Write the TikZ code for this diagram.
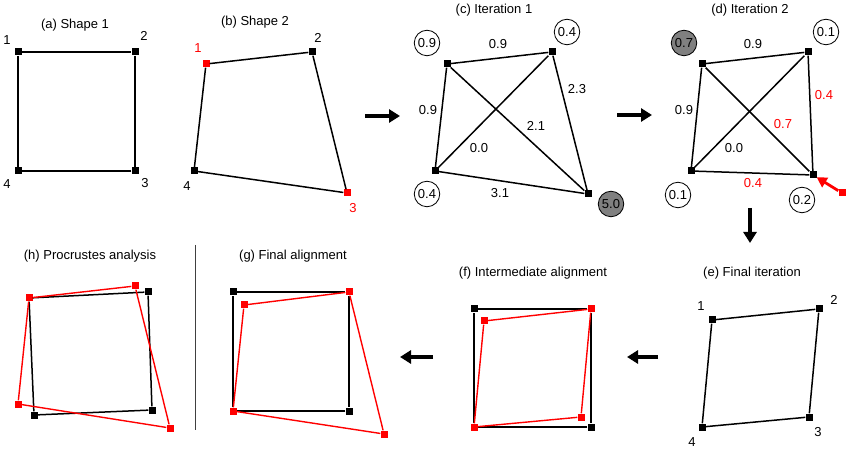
\documentclass[tikz,border=0pt]{standalone}
\usepackage{fontspec}
\setmainfont{Liberation Sans}
\usetikzlibrary{arrows.meta}
\begin{document}
\begin{tikzpicture}[x=1pt,y=-1pt,
  every node/.style={font=\fontsize{13}{15}\selectfont},
  vb/.style={rectangle, fill=black, minimum size=7pt, inner sep=0pt},
  vr/.style={rectangle, fill=red, minimum size=7pt, inner sep=0pt},
  lbl/.style={inner sep=0pt},
  rlbl/.style={inner sep=0pt, text=red},
  circ/.style={circle, draw, line width=0.8pt, minimum size=25.5pt, inner sep=0pt},
  gcirc/.style={circ, fill=black!50},
  ln/.style={line width=1.5pt},
  rln/.style={line width=1.4pt, red},
  bigarrow/.style={line width=4pt, -{Triangle[length=11pt,width=13pt]}},
]
\useasboundingbox (0,0) rectangle (847,449);

% ---------- (a) Shape 1
\node[lbl] (ta) at (75,25) {(a) Shape 1};
\node[vb] (a1) at (18,52) {};
\node[vb] (a2) at (135,52) {};
\node[vb] (a3) at (135,171) {};
\node[vb] (a4) at (18,171) {};
\draw[ln] (a1) -- (a2) -- (a3) -- (a4) -- (a1);
\node[lbl] (la1) at (7,40) {1};
\node[lbl] (la2) at (144,36) {2};
\node[lbl] (la3) at (145,183) {3};
\node[lbl] (la4) at (7,184) {4};

% ---------- (b) Shape 2
\node[lbl] (tb) at (255,22) {(b) Shape 2};
\node[vr] (b1) at (206,64) {};
\node[vb] (b2) at (312,52) {};
\node[vr] (b3) at (347,193) {};
\node[vb] (b4) at (194,171) {};
\draw[ln] (b1) -- (b2) -- (b3) -- (b4) -- (b1);
\node[rlbl] (lb1) at (198,48) {1};
\node[lbl] (lb2) at (318,38) {2};
\node[rlbl] (lb3) at (353,208) {3};
\node[lbl] (lb4) at (187,186) {4};

\coordinate (abS) at (365,116);
\coordinate (abE) at (400,116);
\draw[bigarrow] (abS) -- (abE);

% ---------- (c) Iteration 1
\node[lbl] (tc) at (494,10) {(c) Iteration 1};
\node[vb] (c1) at (447,64) {};
\node[vb] (c2) at (552,52) {};
\node[vb] (c3) at (588,194) {};
\node[vb] (c4) at (435,171) {};
\draw[ln] (c1) -- (c2) -- (c3) -- (c4) -- (c1);
\draw[ln] (c1) -- (c3);
\draw[ln] (c2) -- (c4);
\node[lbl] (ce12) at (498,44) {0.9};
\node[lbl] (ce14) at (428,110) {0.9};
\node[lbl] (ce23) at (577,89) {2.3};
\node[lbl] (ce13) at (536,126) {2.1};
\node[lbl] (ce24) at (479,148) {0.0};
\node[lbl] (ce34) at (500,193) {3.1};
\node[circ] (cc1) at (427,43) {0.9};
\node[circ] (cc2) at (567,32) {0.4};
\node[circ] (cc4) at (427,194) {0.4};
\node[gcirc] (cc3) at (611,204) {5.0};

\coordinate (cdS) at (617,115);
\coordinate (cdE) at (652,115);
\draw[bigarrow] (cdS) -- (cdE);

% ---------- (d) Iteration 2
\node[lbl] (td) at (750,10) {(d) Iteration 2};
\node[vb] (d1) at (702,64) {};
\node[vb] (d2) at (808,52) {};
\node[vb] (d3) at (813,175) {};
\node[vb] (d4) at (691,171) {};
\draw[ln] (d1) -- (d2) -- (d3) -- (d4) -- (d1);
\draw[ln] (d1) -- (d3);
\draw[ln] (d2) -- (d4);
\node[lbl] (de12) at (753,44) {0.9};
\node[lbl] (de14) at (684,110) {0.9};
\node[rlbl] (de23) at (824,95) {0.4};
\node[rlbl] (de13) at (783,124) {0.7};
\node[lbl] (de24) at (734,148) {0.0};
\node[rlbl] (de34) at (753,183) {0.4};
\node[gcirc] (dc1) at (684,43) {0.7};
\node[circ] (dc2) at (826,32) {0.1};
\node[circ] (dc4) at (678,195) {0.1};
\node[circ] (dc3) at (802,200) {0.2};
\node[vr] (dtail) at (842,193) {};
\draw[line width=2.8pt, red, -{Triangle[length=10pt,width=11pt]}] (dtail) -- (d3);

\coordinate (deS) at (750,208);
\coordinate (deE) at (750,243);
\draw[bigarrow] (deS) -- (deE);

% ---------- (e) Final iteration
\node[lbl] (te) at (752,273) {(e) Final iteration};
\node[vb] (e1) at (712,320) {};
\node[vb] (e2) at (819,309) {};
\node[vb] (e3) at (809,417) {};
\node[vb] (e4) at (702,427) {};
\draw[ln] (e1) -- (e2) -- (e3) -- (e4) -- (e1);
\node[lbl] (le1) at (701,306) {1};
\node[lbl] (le2) at (834,300) {2};
\node[lbl] (le3) at (818,432) {3};
\node[lbl] (le4) at (692,442) {4};

\coordinate (efS) at (658,357);
\coordinate (efE) at (627,357);
\draw[bigarrow] (efS) -- (efE);

% ---------- (f) Intermediate alignment
\node[lbl] (tf) at (533,273) {(f) Intermediate alignment};
\node[vb] (fb1) at (474,309) {};
\node[vb] (fb3) at (591,427) {};
\node[vr] (fr2) at (591,309) {};
\node[vr] (fr4) at (474,427) {};
\node[vr] (fr1) at (484,321) {};
\node[vr] (fr3) at (581,417) {};
\draw[ln] (fb1) -- (fr2) -- (fb3) -- (fr4) -- (fb1);
\draw[rln] (fr1) -- (fr2) -- (fr3) -- (fr4) -- (fr1);

\coordinate (fgS) at (433,357);
\coordinate (fgE) at (400,357);
\draw[bigarrow] (fgS) -- (fgE);

% ---------- (g) Final alignment
\node[lbl] (tg) at (293,256) {(g) Final alignment};
\node[vb] (gb1) at (233,292) {};
\node[vb] (gb3) at (349,411) {};
\node[vr] (gr2) at (349,292) {};
\node[vr] (gr4) at (233,411) {};
\node[vr] (gr1) at (244,305) {};
\node[vr] (gr3) at (384,434) {};
\draw[ln] (gb1) -- (gr2) -- (gb3) -- (gr4) -- (gb1);
\draw[rln] (gr1) -- (gr2) -- (gr3) -- (gr4) -- (gr1);

% separator
\coordinate (sepT) at (195,245);
\coordinate (sepB) at (195,430);
\draw[line width=0.8pt, black!75] (sepT) -- (sepB);

% ---------- (h) Procrustes analysis
\node[lbl] (th) at (90,256) {(h) Procrustes analysis};
\node[vb] (hb2) at (148,292) {};
\node[vb] (hb3) at (152,410) {};
\node[vb] (hb4) at (34,415) {};
\node[vr] (hr1) at (29,298) {};
\node[vr] (hr2) at (135,286) {};
\node[vr] (hr3) at (170,428) {};
\node[vr] (hr4) at (18,404) {};
\draw[ln] (hr1) -- (hb2) -- (hb3) -- (hb4) -- (hr1);
\draw[rln] (hr1) -- (hr2) -- (hr3) -- (hr4) -- (hr1);

\end{tikzpicture}
\end{document}
